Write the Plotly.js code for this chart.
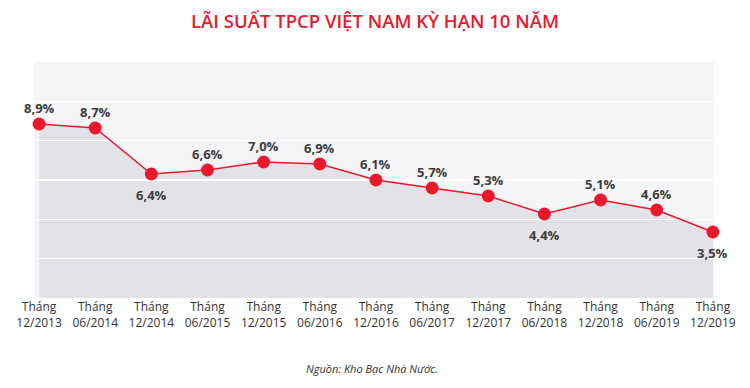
<!DOCTYPE html>
<html><head><meta charset="utf-8">
<script src="https://cdn.plot.ly/plotly-3.0.1.min.js"></script>
<style>html,body{margin:0;padding:0;background:#fff}#chart{width:750px;height:388px}</style>
</head><body><div id="chart"></div>
<script>
const months = ["12/2013","06/2014","12/2014","06/2015","12/2015","06/2016","12/2016","06/2017","12/2017","06/2018","12/2018","06/2019","12/2019"];
const rates = [8.9, 8.7, 6.4, 6.6, 7.0, 6.9, 6.1, 5.7, 5.3, 4.4, 5.1, 4.6, 3.5];
const labelSide = ["above","above","below","above","above","above","above","above","above","below","above","above","below"];
const categories = months.map(m => "Tháng<br>" + m);
const labels = rates.map(v => v.toFixed(1).replace(".", ",") + "%");

const red = "#e8192c";
const xr = [-0.09, 12.02];
const yr = [0.2, 12];

const fillTrace = {
  x: categories, y: rates, type: "scatter", mode: "none",
  fill: "tozeroy", fillcolor: "#e2e2e7", hoverinfo: "skip",
  xaxis: "x", yaxis: "y", showlegend: false
};
const lineTrace = {
  x: categories, y: rates, type: "scatter", mode: "lines+markers",
  line: {color: red, width: 1.5},
  marker: {color: red, size: 13},
  cliponaxis: false, xaxis: "x2", yaxis: "y2", showlegend: false
};

const labelAnnotations = rates.map((v, i) => ({
  x: categories[i], y: v, xref: "x2", yref: "y2",
  text: labels[i], showarrow: false,
  xanchor: "center", yanchor: "middle",
  yshift: labelSide[i] === "above" ? 16 : -21,
  font: {family: "Open Sans", size: 13, color: "#3c3c3c", weight: 700}
}));

const layout = {
  width: 750, height: 388,
  margin: {l: 34, r: 36, t: 62, b: 90},
  paper_bgcolor: "#ffffff",
  plot_bgcolor: "rgba(0,0,0,0)",
  font: {family: "Open Sans", color: "#333333"},
  title: {
    text: "LÃI SUẤT TPCP VIỆT NAM KỲ HẠN 10 NĂM",
    font: {family: "Open Sans", size: 18.5, color: red, weight: 600},
    x: 0.5, xanchor: "center", y: 1 - 22/388, yanchor: "middle", yref: "container"
  },
  xaxis: {
    type: "category", range: xr, domain: [0, 1], anchor: "y",
    showgrid: false, zeroline: false, showline: false, ticks: "",
    tickfont: {family: "Open Sans", size: 12, color: "#333333"},
    fixedrange: true
  },
  yaxis: {
    range: yr, domain: [0, 1], anchor: "x",
    showgrid: false, zeroline: false, showticklabels: false, ticks: "", fixedrange: true
  },
  xaxis2: {
    type: "category", range: xr, domain: [0, 1], anchor: "y2",
    showgrid: false, zeroline: false, showline: false, showticklabels: false, ticks: "", fixedrange: true
  },
  yaxis2: {
    range: yr, domain: [0, 1], anchor: "x2", tickmode: "linear", tick0: 0.2, dtick: (12 - 0.2) / 6,
    showgrid: true, gridcolor: "#ffffff", gridwidth: 1.5,
    zeroline: false, showticklabels: false, ticks: "", fixedrange: true
  },
  shapes: [{
    type: "rect", xref: "paper", yref: "paper", x0: 0, x1: 1, y0: 0, y1: 1,
    fillcolor: "#f5f5f8", line: {width: 0}, layer: "below"
  }],
  annotations: labelAnnotations.concat([{
    text: "<i>Nguồn: Kho Bạc Nhà Nước.</i>",
    xref: "paper", yref: "paper", x: (372 - 34) / 680, y: (298 - 368) / 236,
    xanchor: "center", yanchor: "middle", showarrow: false,
    font: {family: "Open Sans", size: 11, color: "#333333"}
  }])
};

Plotly.newPlot("chart", [fillTrace, lineTrace], layout, {displayModeBar: false, staticPlot: true});
</script></body></html>
